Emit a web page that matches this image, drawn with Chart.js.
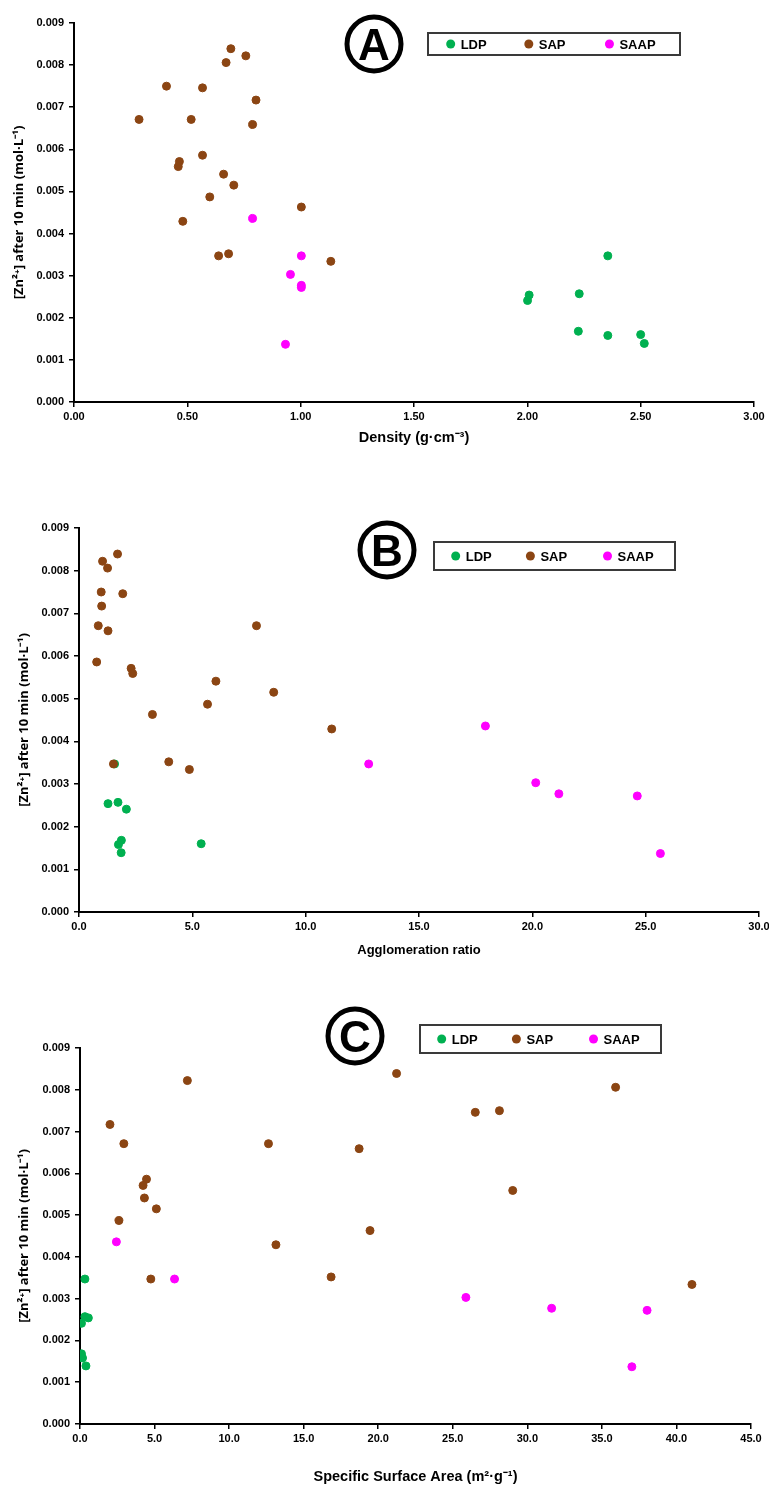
<!DOCTYPE html>
<html>
<head>
<meta charset="utf-8">
<script src="https://cdn.jsdelivr.net/npm/chart.js@4.4.1/dist/chart.umd.min.js"></script>
<style>
  html, body { margin: 0; padding: 0; background: #fff; }
  body { width: 769px; height: 1487px; position: relative; overflow: hidden; }
  canvas { position: absolute; left: 0; }
</style>
</head>
<body>
<canvas id="chartA" width="769" height="470" style="top:0px"></canvas>
<canvas id="chartB" width="769" height="495" style="top:470px"></canvas>
<canvas id="chartC" width="769" height="522" style="top:965px"></canvas>
<script>
const seriesNames = ['LDP', 'SAP', 'SAAP'];
const seriesColors = ['#00B050', '#8B4513', '#FF00FF'];

// [Zn2+] after 10 min (mol/L) and the three x properties, one entry per sample
const ldpZn = [0.00347, 0.00254, 0.00257, 0.00241, 0.00168, 0.00158, 0.00160, 0.00139];
const ldpDensity = [2.355, 2.008, 2.229, 2.001, 2.225, 2.355, 2.500, 2.516];
const ldpAgglo = [1.57, 1.28, 1.72, 2.09, 1.87, 1.74, 5.39, 1.86];
const ldpSsa = [0.33, 0.56, 0.33, 0.10, 0.10, 0.17, 0.12, 0.40];

const sapZn = [0.00839, 0.00822, 0.00806, 0.00750, 0.00746, 0.00717, 0.00671, 0.00671, 0.00659, 0.00586,
               0.00571, 0.00559, 0.00541, 0.00515, 0.00487, 0.00463, 0.00429, 0.00347, 0.00352, 0.00334];
const sapDensity = [0.692, 0.758, 0.671, 0.408, 0.567, 0.803, 0.287, 0.517, 0.788, 0.567,
                    0.465, 0.460, 0.660, 0.705, 0.599, 1.003, 0.480, 0.638, 0.682, 1.133];
const sapAgglo = [1.70, 1.04, 1.26, 0.98, 1.93, 1.00, 0.85, 7.83, 1.28, 0.78,
                  2.30, 2.37, 6.04, 8.59, 5.67, 3.24, 11.15, 1.52, 3.96, 4.87];
const sapSsa = [21.23, 7.20, 35.92, 28.13, 26.51, 2.01, 2.94, 12.64, 18.72, 4.46,
                4.23, 29.02, 4.32, 5.12, 2.61, 19.45, 13.14, 4.75, 16.84, 41.04];

const saapZn = [0.00436, 0.00347, 0.00303, 0.00277, 0.00272, 0.00137];
const saapDensity = [0.788, 1.003, 0.955, 1.003, 1.003, 0.933];
const saapAgglo = [17.93, 12.78, 20.15, 21.17, 24.63, 25.65];
const saapSsa = [2.44, 6.34, 25.88, 31.63, 38.03, 37.01];

const yTitle = '[Zn²⁺] after 10 min (mol·L⁻¹)';
const sans = "'Liberation Sans', Arial, sans-serif";

function points(xs, ys) {
    return xs.map((x, i) => ({ x: x, y: ys[i] }));
}

// circled panel letter + boxed legend
const panelDeco = {
    id: 'panelDeco',
    afterDraw(chart, args, opts) {
        const ctx = chart.ctx;
        ctx.save();
        ctx.lineWidth = 5;
        ctx.strokeStyle = '#000';
        ctx.beginPath();
        ctx.arc(opts.cx, opts.cy, 27, 0, Math.PI * 2);
        ctx.stroke();
        ctx.fillStyle = '#000';
        ctx.font = 'bold 44px ' + sans;
        ctx.textAlign = 'center';
        ctx.textBaseline = 'alphabetic';
        ctx.fillText(opts.letter, opts.cx, opts.cy + 16);

        const b = opts.box;
        ctx.lineWidth = 2;
        ctx.strokeStyle = '#3a3a3a';
        ctx.strokeRect(b.x, b.y, b.w, b.h);
        ctx.font = 'bold 13px ' + sans;
        ctx.textAlign = 'left';
        const slots = [0.09, 0.40, 0.72];
        chart.data.datasets.forEach((ds, i) => {
            const mx = b.x + b.w * slots[i];
            const my = b.y + b.h / 2;
            ctx.fillStyle = ds.backgroundColor;
            ctx.beginPath();
            ctx.arc(mx, my, 4.5, 0, Math.PI * 2);
            ctx.fill();
            ctx.fillStyle = '#000';
            ctx.fillText(ds.label, mx + 10, my + 5);
        });
        ctx.restore();
    }
};

const panels = [
    {
        canvas: 'chartA', letter: 'A', cx: 374, cy: 44, box: { x: 428, y: 33, w: 252, h: 22 },
        xs: [ldpDensity, sapDensity, saapDensity],
        xTitle: 'Density (g·cm⁻³)', xTitleFont: { family: sans, size: 14.5, weight: 'bold' }, xTitlePad: 23,
        xMax: 3, xStep: 0.5, xDigits: 2,
        plotLeft: 74, padTop: 23, padRight: 15, xAxisH: 68, yTitleX: 19
    },
    {
        canvas: 'chartB', letter: 'B', cx: 387, cy: 80, box: { x: 434, y: 72, w: 241, h: 28 },
        xs: [ldpAgglo, sapAgglo, saapAgglo],
        xTitle: 'Agglomeration ratio', xTitleFont: { family: sans, size: 13, weight: 'bold' }, xTitlePad: 7,
        xMax: 30, xStep: 5, xDigits: 1,
        plotLeft: 79, padTop: 58, padRight: 10, xAxisH: 53, yTitleX: 24
    },
    {
        canvas: 'chartC', letter: 'C', cx: 355, cy: 71, box: { x: 420, y: 60, w: 241, h: 28 },
        xs: [ldpSsa, sapSsa, saapSsa],
        xTitle: 'Specific Surface Area (m²·g⁻¹)', xTitleFont: { family: sans, size: 14.5, weight: 'bold' }, xTitlePad: 1,
        xMax: 45, xStep: 5, xDigits: 1,
        plotLeft: 80, padTop: 83, padRight: 18, xAxisH: 63, yTitleX: 24
    }
];

const zns = [ldpZn, sapZn, saapZn];
const tickFont = { family: sans, size: 11, weight: 'bold' };
const yTitleFont = { family: "'Open Sans', sans-serif", size: 13, weight: 'bold' };

panels.forEach(p => {
    const ctx = document.getElementById(p.canvas).getContext('2d');
    // lower order is drawn on top, so SAP covers LDP where they overlap
    const datasets = seriesNames.map((name, i) => ({
        label: name,
        data: points(p.xs[i], zns[i]),
        backgroundColor: seriesColors[i],
        borderColor: seriesColors[i],
        pointRadius: 4,
        pointBorderWidth: 1,
        order: 2 - i
    }));

    new Chart(ctx, {
        type: 'scatter',
        data: { datasets: datasets },
        options: {
            responsive: false,
            animation: false,
            layout: { padding: { left: 0, top: p.padTop, right: p.padRight, bottom: 0 } },
            plugins: {
                legend: { display: false },
                tooltip: { enabled: false },
                panelDeco: { letter: p.letter, cx: p.cx, cy: p.cy, box: p.box }
            },
            scales: {
                x: {
                    type: 'linear',
                    min: 0,
                    max: p.xMax,
                    ticks: {
                        stepSize: p.xStep,
                        autoSkip: false,
                        maxRotation: 0,
                        padding: 3,
                        color: '#000',
                        font: tickFont,
                        callback: v => Number(v).toFixed(p.xDigits)
                    },
                    grid: { drawOnChartArea: false, drawTicks: true, tickLength: 5, color: '#000', lineWidth: 1.5 },
                    border: { display: true, color: '#000', width: 2 },
                    title: {
                        display: true,
                        text: p.xTitle,
                        color: '#000',
                        font: p.xTitleFont,
                        padding: { top: 0, bottom: p.xTitlePad }
                    },
                    afterFit: s => {
                        s.height = p.xAxisH;
                        s.paddingLeft = 0;
                        s.paddingRight = 0;
                    }
                },
                y: {
                    type: 'linear',
                    min: 0,
                    max: 0.009,
                    ticks: {
                        stepSize: 0.001,
                        autoSkip: false,
                        padding: 5,
                        color: '#000',
                        font: tickFont,
                        callback: v => Number(v).toFixed(3)
                    },
                    grid: { drawOnChartArea: false, drawTicks: true, tickLength: 5, color: '#000', lineWidth: 1.5 },
                    border: { display: true, color: '#000', width: 2 },
                    title: {
                        display: true,
                        text: yTitle,
                        color: '#000',
                        font: yTitleFont,
                        padding: { top: p.yTitleX - 7.8, bottom: 0 }
                    },
                    afterFit: s => {
                        s.width = p.plotLeft;
                        s.paddingTop = 0;
                        s.paddingBottom = 0;
                    }
                }
            }
        },
        plugins: [panelDeco]
    });
});
</script>
</body>
</html>
